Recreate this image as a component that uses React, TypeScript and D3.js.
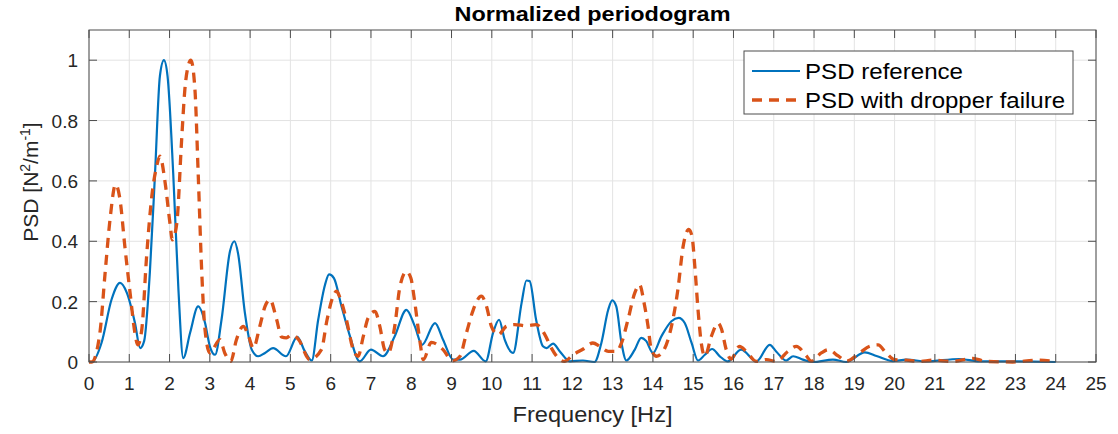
import React from "react";
import * as d3 from "d3";

const freqRef = [0, 0.07, 0.31, 0.56, 0.77, 0.94, 1.14, 1.27, 1.37, 1.51, 1.64, 1.76, 1.86, 1.95, 2.09, 2.22, 2.34, 2.51, 2.71, 2.88, 3.0, 3.13, 3.29, 3.5, 3.61, 3.7, 3.87, 4.04, 4.2, 4.37, 4.57, 4.89, 5.17, 5.36, 5.53, 5.69, 5.86, 5.96, 6.08, 6.27, 6.48, 6.72, 7.0, 7.3, 7.59, 7.88, 8.09, 8.27, 8.59, 8.79, 9.04, 9.21, 9.55, 9.85, 10.03, 10.18, 10.32, 10.53, 10.74, 10.86, 10.94, 11.1, 11.27, 11.36, 11.52, 11.69, 11.94, 12.26, 12.55, 12.72, 12.89, 12.99, 13.09, 13.22, 13.34, 13.55, 13.71, 13.83, 14.0, 14.21, 14.46, 14.64, 14.79, 14.96, 15.12, 15.29, 15.47, 15.66, 15.86, 16.19, 16.57, 16.9, 17.06, 17.31, 17.48, 17.72, 17.97, 18.47, 18.8, 19.26, 19.55, 19.96, 20.29, 20.78, 21.61, 22.11, 22.93, 24.0];
const psdRef = [0, 0.0, 0.063, 0.207, 0.262, 0.229, 0.13, 0.046, 0.07, 0.295, 0.627, 0.947, 1.0, 0.947, 0.627, 0.24, 0.013, 0.097, 0.184, 0.13, 0.052, 0.024, 0.14, 0.367, 0.4, 0.36, 0.163, 0.041, 0.019, 0.03, 0.046, 0.019, 0.083, 0.035, 0.005, 0.14, 0.256, 0.29, 0.278, 0.184, 0.085, 0.002, 0.041, 0.019, 0.085, 0.173, 0.118, 0.057, 0.129, 0.074, 0.008, 0.008, 0.037, 0.002, 0.096, 0.14, 0.074, 0.03, 0.196, 0.27, 0.268, 0.14, 0.052, 0.046, 0.061, 0.035, 0.002, 0.005, 0.0, 0.063, 0.173, 0.204, 0.184, 0.063, 0.005, 0.041, 0.08, 0.07, 0.03, 0.085, 0.135, 0.146, 0.129, 0.063, 0.005, 0.024, 0.043, 0.019, 0.002, 0.041, 0.002, 0.057, 0.035, 0.005, 0.019, 0.008, 0.0, 0.008, 0.0, 0.032, 0.02, 0.003, 0.008, 0.002, 0.01, 0.002, 0.002, 0.0];

const freqFail = [0, 0.07, 0.27, 0.4, 0.52, 0.66, 0.77, 0.89, 1.02, 1.14, 1.21, 1.31, 1.43, 1.56, 1.68, 1.76, 1.89, 2.01, 2.07, 2.18, 2.3, 2.38, 2.46, 2.53, 2.63, 2.71, 2.8, 2.88, 3.0, 3.25, 3.37, 3.52, 3.66, 3.83, 3.95, 4.08, 4.24, 4.37, 4.49, 4.66, 4.78, 4.9, 5.03, 5.2, 5.48, 5.77, 5.91, 6.06, 6.15, 6.21, 6.39, 6.56, 6.68, 6.81, 6.93, 7.1, 7.22, 7.34, 7.43, 7.59, 7.72, 7.88, 7.99, 8.09, 8.21, 8.3, 8.5, 8.79, 9.02, 9.21, 9.37, 9.54, 9.74, 9.87, 9.99, 10.16, 10.36, 10.57, 10.86, 11.1, 11.32, 11.48, 11.69, 11.8, 12.02, 12.27, 12.51, 12.68, 12.89, 13.09, 13.22, 13.38, 13.55, 13.67, 13.78, 13.88, 13.96, 14.09, 14.25, 14.46, 14.62, 14.75, 14.89, 14.97, 15.04, 15.12, 15.2, 15.29, 15.45, 15.62, 15.7, 15.82, 15.94, 16.15, 16.32, 16.57, 16.82, 17.06, 17.35, 17.56, 17.81, 17.93, 18.18, 18.35, 18.6, 18.8, 19.13, 19.38, 19.59, 19.79, 20.0, 20.29, 20.62, 20.95, 21.44, 21.94, 22.27, 22.93, 23.52, 24.0];
const psdFail = [0, 0.0, 0.096, 0.295, 0.47, 0.588, 0.538, 0.383, 0.229, 0.096, 0.057, 0.107, 0.35, 0.55, 0.649, 0.682, 0.594, 0.46, 0.405, 0.46, 0.737, 0.903, 0.98, 1.0, 0.903, 0.627, 0.295, 0.107, 0.03, 0.074, 0.03, 0.002, 0.074, 0.118, 0.09, 0.046, 0.118, 0.184, 0.207, 0.14, 0.083, 0.08, 0.09, 0.075, 0.008, 0.041, 0.14, 0.218, 0.235, 0.22, 0.14, 0.041, 0.019, 0.085, 0.146, 0.168, 0.118, 0.041, 0.03, 0.118, 0.25, 0.3, 0.278, 0.196, 0.074, 0.008, 0.065, 0.041, 0.004, 0.019, 0.096, 0.173, 0.218, 0.184, 0.118, 0.09, 0.118, 0.124, 0.12, 0.124, 0.09, 0.046, 0.008, 0.002, 0.024, 0.043, 0.063, 0.052, 0.035, 0.035, 0.063, 0.14, 0.229, 0.256, 0.196, 0.118, 0.041, 0.019, 0.035, 0.118, 0.24, 0.383, 0.439, 0.417, 0.317, 0.173, 0.063, 0.019, 0.085, 0.129, 0.11, 0.041, 0.01, 0.052, 0.035, 0.002, 0.008, 0.002, 0.035, 0.052, 0.02, 0.003, 0.03, 0.041, 0.02, 0.003, 0.03, 0.052, 0.057, 0.03, 0.008, 0.006, 0.002, 0.006, 0.002, 0.012, 0.002, 0.0, 0.006, 0.002];

const xTicks = d3.range(0, 26);
const yTicks = [0, 0.2, 0.4, 0.6, 0.8, 1];
const yTickLabels = ["0", "0.2", "0.4", "0.6", "0.8", "1"];
const seriesNames = ["PSD reference", "PSD with dropper failure"];
const seriesColors = ["#0072BD", "#D95319"];

const W = 1118, H = 434;
const M = { left: 89, right: 1096, top: 30, bottom: 362 };

export default function App() {
  const x = d3.scaleLinear().domain([0, 25]).range([M.left, M.right]);
  const y = d3.scaleLinear().domain([0, 1.1]).range([M.bottom, M.top]);
  const line = d3
    .line<[number, number]>()
    .x((d) => x(d[0]))
    .y((d) => y(d[1]))
    .curve(d3.curveMonotoneX);
  const refPts = freqRef.map((f, i) => [f, psdRef[i]] as [number, number]);
  const failPts = freqFail.map((f, i) => [f, psdFail[i]] as [number, number]);
  const axisColor = "#4d4d4d";
  const textColor = "#262626";
  const font = "Arial, 'Liberation Sans', sans-serif";
  const tickLen = 8;
  const lgX = 744, lgY = 51, lgW = 329, lgH = 63;
  const legendTextLen = [158, 260];
  return (
    <svg width={W} height={H} style={{ position: "absolute", left: 0, top: 0, background: "#fff" }} fontFamily={font}>
      <rect x={0} y={0} width={W} height={H} fill="#fff" />
      <rect x={M.left} y={M.top} width={M.right - M.left} height={M.bottom - M.top} fill="#fff" />
      {xTicks.map((t) => (
        <line key={"gx" + t} x1={x(t)} x2={x(t)} y1={M.top} y2={M.bottom} stroke="#e3e3e3" strokeWidth={1} />
      ))}
      {yTicks.map((t) => (
        <line key={"gy" + t} x1={M.left} x2={M.right} y1={y(t)} y2={y(t)} stroke="#e3e3e3" strokeWidth={1} />
      ))}
      <path d={line(refPts) || ""} fill="none" stroke={seriesColors[0]} strokeWidth={2.2} strokeLinejoin="round" />
      <path d={line(failPts) || ""} fill="none" stroke={seriesColors[1]} strokeWidth={3.3} strokeDasharray="10,7" />
      <rect x={M.left} y={M.top} width={M.right - M.left} height={M.bottom - M.top} fill="none" stroke={axisColor} strokeWidth={1} />
      {xTicks.map((t) => (
        <g key={"tx" + t}>
          <line x1={x(t)} x2={x(t)} y1={M.bottom} y2={M.bottom - tickLen} stroke={axisColor} />
          <line x1={x(t)} x2={x(t)} y1={M.top} y2={M.top + tickLen} stroke={axisColor} />
          <text x={x(t)} y={390} textAnchor="middle" fontSize={19} fill={textColor}>{t}</text>
        </g>
      ))}
      {yTicks.map((t, i) => (
        <g key={"ty" + t}>
          <line x1={M.left} x2={M.left + tickLen} y1={y(t)} y2={y(t)} stroke={axisColor} />
          <line x1={M.right} x2={M.right - tickLen} y1={y(t)} y2={y(t)} stroke={axisColor} />
          <text x={78} y={y(t) + 7} textAnchor="end" fontSize={19} fill={textColor}>{yTickLabels[i]}</text>
        </g>
      ))}
      <text x={(M.left + M.right) / 2} y={21} textAnchor="middle" fontSize={21} fontWeight="bold" fill="#000" textLength={276} lengthAdjust="spacingAndGlyphs">Normalized periodogram</text>
      <text x={(M.left + M.right) / 2} y={422} textAnchor="middle" fontSize={22} fill={textColor} textLength={160} lengthAdjust="spacingAndGlyphs">Frequency [Hz]</text>
      <text transform={`translate(38,${(M.top + M.bottom) / 2 - 14}) rotate(-90)`} textAnchor="middle" fontSize={21} fill={textColor}>
        PSD [N<tspan dy={-8} fontSize={14}>2</tspan><tspan dy={8}>/m</tspan><tspan dy={-8} fontSize={14}>-1</tspan><tspan dy={8}>]</tspan>
      </text>
      <rect x={lgX} y={lgY} width={lgW} height={lgH} fill="#fff" stroke={axisColor} strokeWidth={1} />
      {seriesNames.map((n, i) => {
        const cy = lgY + 20 + i * 29;
        return (
          <g key={n}>
            <line x1={752} x2={800} y1={cy} y2={cy} stroke={seriesColors[i]} strokeWidth={i === 0 ? 2.2 : 3.3} strokeDasharray={i === 0 ? undefined : "10,7"} />
            <text x={805} y={cy + 8} fontSize={22} fill="#000" textLength={legendTextLen[i]} lengthAdjust="spacingAndGlyphs">{n}</text>
          </g>
        );
      })}
    </svg>
  );
}
